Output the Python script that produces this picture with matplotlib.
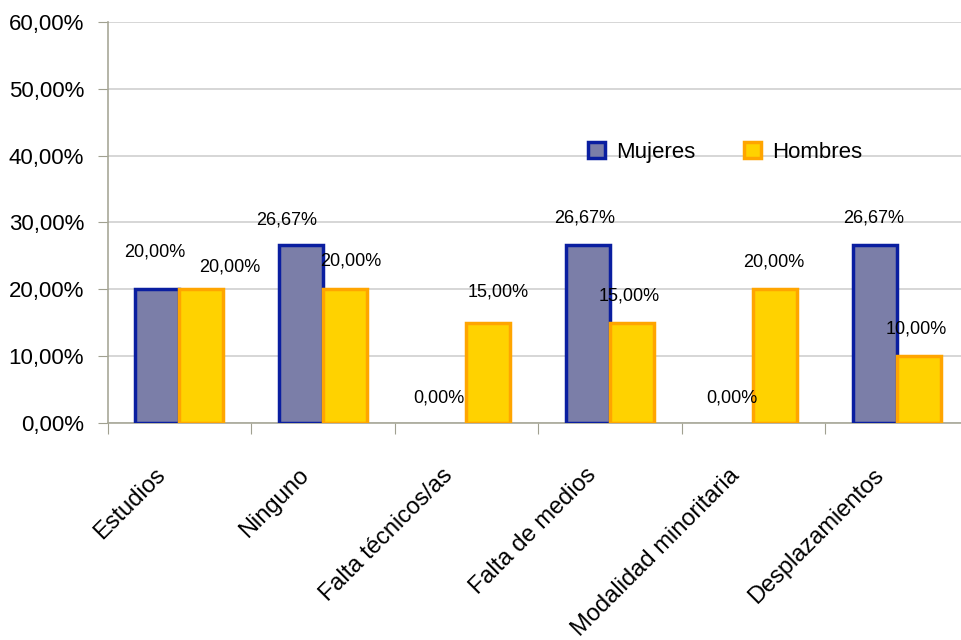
import matplotlib.pyplot as plt
import matplotlib.transforms as mtransforms
import numpy as np

categorias = ['Estudios', 'Ninguno', 'Falta técnicos/as', 'Falta de medios',
              'Modalidad minoritaria', 'Desplazamientos']
mujeres = [20.00, 26.67, 0.00, 26.67, 0.00, 26.67]
hombres = [20.00, 20.00, 15.00, 15.00, 20.00, 10.00]
yticks = [0, 10, 20, 30, 40, 50, 60]

# desplazamiento de las etiquetas de datos (px): (dx, dy sobre la barra)
offs_muj = [(-3, 37), (-14, 25), (-6, 25), (-3, 27), (0, 25), (-1, 27)]
offs_hom = [(28, 22), (6, 28), (10, 31), (-3, 27), (-2, 27), (-3, 27)]

plt.rcParams['font.family'] = ['Liberation Sans', 'DejaVu Sans']


def pct(v):
    return f'{v:.2f}'.replace('.', ',') + '%'


fig = plt.figure(figsize=(9.61, 6.4), dpi=100)
ax = fig.add_axes([0.112, 0.339, 0.896, 0.627])

x = np.arange(len(categorias))
w = 0.307

b1 = ax.bar(x - w / 2, mujeres, w, color='#7B7EA8', edgecolor='#0A1EA0',
            linewidth=2.5, label='Mujeres', zorder=3)
b2 = ax.bar(x + w / 2, hombres, w, color='#FFD200', edgecolor='#FFA500',
            linewidth=2.5, label='Hombres', zorder=3)

for bars, vals, offs in ((b1, mujeres, offs_muj), (b2, hombres, offs_hom)):
    for rect, v, (dx, dy) in zip(bars, vals, offs):
        if v == 0:
            rect.set_linewidth(0)
        ax.annotate(pct(v), (rect.get_x() + rect.get_width() / 2, v),
                    xytext=(dx * 0.72, dy * 0.72), textcoords='offset points',
                    ha='center', va='center', fontsize=13, zorder=4)

ax.set_xlim(-0.5, len(categorias) - 0.5)
ax.set_ylim(0, 60)
ax.set_yticks(yticks)
ax.set_yticklabels([pct(v) for v in yticks], fontsize=16)
ax.yaxis.grid(True, color='#CFCFCF', linewidth=1.2, zorder=0)

# marcas entre categorías, etiquetas giradas como textos
ax.set_xticks(np.arange(len(categorias) + 1) - 0.5)
ax.set_xticklabels([])
ax.tick_params(axis='x', length=8, color='#A0A090', direction='out')
ax.tick_params(axis='y', length=7, color='#A0A090', direction='out', pad=10)

shift = mtransforms.ScaledTranslation(-17 / 100, -49 / 100, fig.dpi_scale_trans)
for xi, cat in zip(x, categorias):
    ax.text(xi, 0, cat, transform=ax.get_xaxis_transform() + shift,
            rotation=45, rotation_mode='anchor', ha='right', va='center',
            fontsize=17, clip_on=False)

for s in ('top', 'right'):
    ax.spines[s].set_visible(False)
for s in ('left', 'bottom'):
    ax.spines[s].set_color('#A8A898')
    ax.spines[s].set_linewidth(1.2)

ax.legend(loc='center left', bbox_to_anchor=(0.535, 0.675), ncol=2, frameon=False,
          fontsize=16, handlelength=0.75, handleheight=0.75, columnspacing=2.2,
          handletextpad=0.5)

plt.savefig('out.png', dpi=100)
